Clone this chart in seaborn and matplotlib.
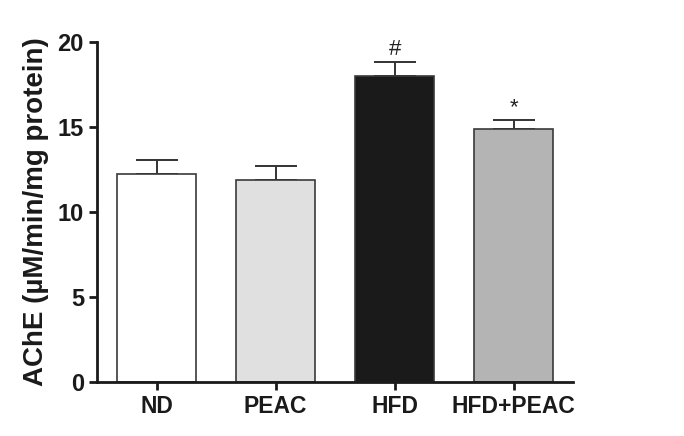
import pandas as pd
import seaborn as sns
import matplotlib.pyplot as plt

groups = ["ND", "PEAC", "HFD", "HFD+PEAC"]
means = [12.25, 11.88, 17.98, 14.88]
errors = [0.82, 0.8, 0.82, 0.5]
marks = ["", "", "#", "*"]
colors = ["#ffffff", "#e0e0e0", "#1a1a1a", "#b4b4b4"]

df = pd.DataFrame({"group": groups, "mean": means, "err": errors})

sns.set_style("ticks")
plt.rcParams['font.family'] = ['Liberation Sans', 'DejaVu Sans']

fig = plt.figure(figsize=(6.84, 4.36), dpi=100)
ax = fig.add_axes([0.142, 0.124, 0.696, 0.78])

sns.barplot(data=df, x="group", y="mean", hue="group", palette=colors,
            legend=False, errorbar=None, width=0.66, edgecolor="#3a3a3a",
            linewidth=1.2, ax=ax, zorder=2)

# upper error bars only
ax.errorbar(range(len(groups)), df["mean"], yerr=[[0] * len(groups), df["err"]],
            fmt="none", ecolor="#333333", elinewidth=1.4, capsize=15,
            capthick=1.4, zorder=1)

for i, m in enumerate(marks):
    if m:
        ax.text(i, means[i] + errors[i] + 0.12, m, ha="center", va="bottom",
                fontsize=16, color="#222222")

ax.set_ylim(0, 20)
ax.set_xlim(-0.5, 3.5)
ax.set_yticks([0, 5, 10, 15, 20])
ax.set_xlabel("")
ax.set_ylabel("AChE (µM/min/mg protein)", fontsize=20, fontweight="bold",
              color="#1a1a1a", labelpad=6)
ax.tick_params(axis="both", width=2, length=6, colors="#1a1a1a")
ax.tick_params(axis="y", labelsize=17)
ax.tick_params(axis="x", labelsize=16.5)
for lab in ax.get_xticklabels() + ax.get_yticklabels():
    lab.set_fontweight("bold")
for s in ["left", "bottom"]:
    ax.spines[s].set_linewidth(2)
    ax.spines[s].set_color("#1a1a1a")
sns.despine(ax=ax)

fig.savefig("out.png", dpi=100)
